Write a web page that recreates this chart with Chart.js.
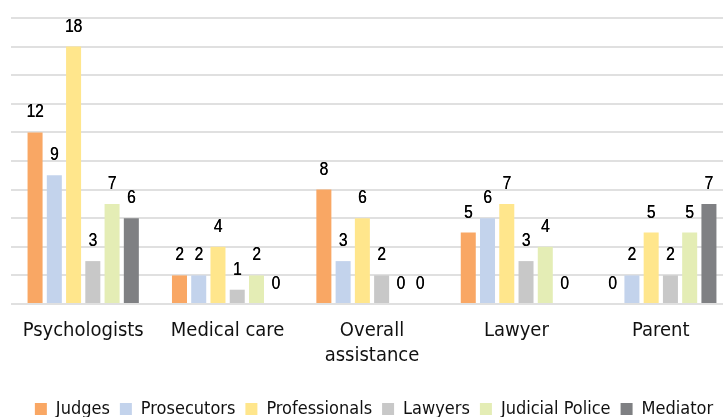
<!DOCTYPE html>
<html>
<head>
<meta charset="utf-8">
<script src="https://cdn.jsdelivr.net/npm/chart.js@4/dist/chart.umd.min.js"></script>
<style>
  html, body { margin: 0; padding: 0; background: #fff; overflow: hidden; }
  #wrap { width: 754px; height: 428px; }
</style>
</head>
<body>
<div id="wrap"><canvas id="servicesChart" width="754" height="428"></canvas></div>
<script>
const categories = ['Psychologists', 'Medical care', ['Overall', 'assistance'], 'Lawyer', 'Parent'];
const seriesNames = ['Judges', 'Prosecutors', 'Professionals', 'Lawyers', 'Judicial Police', 'Mediator'];
const judges = [12, 2, 8, 5, 0];
const prosecutors = [9, 2, 3, 6, 2];
const professionals = [18, 4, 6, 7, 5];
const lawyers = [3, 1, 2, 3, 2];
const judicialPolice = [7, 2, 0, 4, 5];
const mediator = [6, 0, 0, 0, 7];

const seriesValues = [judges, prosecutors, professionals, lawyers, judicialPolice, mediator];
const seriesColors = ['#F9A764', '#C3D3EC', '#FFE68C', '#C8C8C8', '#E4EDB5', '#7F8083'];

const textFont = '"DejaVu Sans Condensed", "DejaVu Sans", sans-serif';

// draws the number above each bar (squeezed sideways to look condensed)
const valueLabels = {
    id: 'valueLabels',
    afterDatasetsDraw(chart) {
        const ctx = chart.ctx;
        ctx.save();
        ctx.font = '19px "Liberation Sans", Arial, sans-serif';
        ctx.fillStyle = '#000';
        ctx.textAlign = 'center';
        ctx.textBaseline = 'alphabetic';
        chart.data.datasets.forEach((ds, i) => {
            chart.getDatasetMeta(i).data.forEach((bar, j) => {
                ctx.save();
                ctx.translate(bar.x, bar.y - 15);
                ctx.scale(0.82, 1);
                ctx.fillText(String(ds.data[j]), 0, 0);
                ctx.fillText(String(ds.data[j]), 0.3, 0);
                ctx.restore();
            });
        });
        ctx.restore();
    }
};

// nudge the legend a bit to the right, like the original
const legendShift = {
    id: 'legendShift',
    afterLayout(chart) {
        chart.legend.left += 2;
        chart.legend.right += 2;
    }
};

const ctx = document.getElementById('servicesChart').getContext('2d');
new Chart(ctx, {
    type: 'bar',
    data: {
        labels: categories,
        datasets: seriesNames.map((name, i) => ({
            label: name,
            data: seriesValues[i],
            backgroundColor: seriesColors[i],
            borderWidth: 0,
            categoryPercentage: 0.8,
            barPercentage: 0.78
        }))
    },
    options: {
        responsive: false,
        animation: false,
        devicePixelRatio: 1,
        layout: { padding: { left: 11, right: 21, top: 18, bottom: 0 } },
        plugins: {
            tooltip: { enabled: false },
            legend: {
                position: 'bottom',
                labels: {
                    boxWidth: 12,
                    boxHeight: 12,
                    padding: 10,
                    color: '#111',
                    font: { family: textFont, size: 18 }
                }
            }
        },
        scales: {
            x: {
                grid: { display: false },
                border: { display: false },
                afterFit(scale) { scale.height += 16; },
                ticks: {
                    color: '#111',
                    padding: 6,
                    maxRotation: 0,
                    font: { family: textFont, size: 20, lineHeight: 1.25 }
                }
            },
            y: {
                min: 0,
                max: 20,
                ticks: { display: false, stepSize: 2 },
                border: { display: false },
                grid: { color: '#e0e0e0', lineWidth: 2, drawTicks: false }
            }
        }
    },
    plugins: [valueLabels, legendShift]
});
</script>
</body>
</html>
